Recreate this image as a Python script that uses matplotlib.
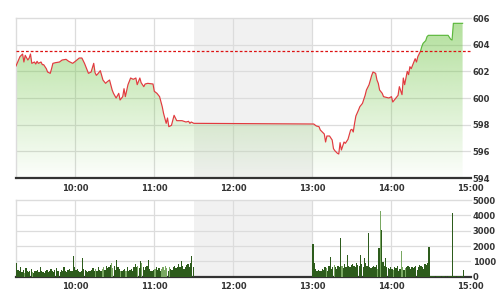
import numpy as np
import matplotlib
matplotlib.use("Agg")
import matplotlib.pyplot as plt
from matplotlib.patches import Rectangle
from matplotlib.colors import to_rgb

# ---------------- data ----------------
price_times = ["09:15","09:18","09:20","09:21","09:22","09:24","09:25","09:26","09:27","09:29",
               "09:30","09:31","09:32","09:34","09:35","09:36","09:38","09:39","09:41","09:42",
               "09:43","09:45","09:48","09:50","09:53","09:55","09:58","10:00","10:03","10:05",
               "10:07","10:09","10:10","10:12","10:14","10:15","10:16","10:17","10:19","10:21",
               "10:23","10:24","10:26","10:28","10:29","10:31","10:33","10:34","10:36","10:37",
               "10:38","10:40","10:42","10:44","10:46","10:47","10:49","10:50","10:52","10:53",
               "10:55","10:59","11:00","11:02","11:04","11:06","11:07","11:09","11:10","11:11",
               "11:13","11:15","11:17","11:21","11:24","11:26","11:27","11:28","11:30",
               "13:00","13:01","13:03","13:05","13:06","13:07","13:09","13:10","13:11","13:13",
               "13:15","13:16","13:17","13:19","13:20","13:21","13:22","13:24","13:25","13:26",
               "13:27","13:29","13:30","13:31","13:32","13:33","13:35","13:36","13:38","13:39",
               "13:40","13:41","13:43","13:44","13:45","13:46","13:48","13:49","13:50","13:51",
               "13:53","13:54","13:56","13:58","14:00","14:01","14:03","14:05","14:06","14:08",
               "14:09","14:10","14:12","14:13","14:14","14:15","14:17","14:18","14:19","14:20",
               "14:22","14:23","14:24","14:26","14:27","14:28","14:43","14:45","14:46","14:47",
               "14:54"]
price_vals = [602.4,603.1,603.3,602.7,603.2,602.85,603.0,603.3,602.6,602.7,
              602.55,602.75,602.6,602.7,602.5,602.5,602.2,601.95,601.85,602.2,
              602.6,602.65,602.7,602.85,602.9,602.75,602.6,602.75,603.0,603.0,
              602.6,602.1,601.85,601.95,602.6,601.9,601.7,601.8,602.05,601.35,
              601.1,601.2,601.35,600.6,600.35,600.0,600.35,599.85,600.1,600.7,
              600.1,601.0,601.5,601.4,601.5,601.0,601.5,601.15,600.85,601.05,
              601.1,601.05,600.5,600.35,600.1,599.35,598.85,598.1,598.5,597.85,
              597.95,598.7,598.3,598.3,598.2,598.25,598.1,598.2,598.1,
              598.05,598.05,597.9,597.85,597.6,597.5,597.3,596.7,597.15,597.15,
              596.85,596.2,596.05,595.85,595.8,596.65,596.1,596.7,596.6,596.75,
              596.9,597.6,597.65,597.45,598.1,598.65,599.1,599.35,599.6,599.9,
              600.2,600.6,601.0,601.35,601.7,601.95,601.85,601.35,601.1,600.6,
              600.35,600.1,600.05,600.0,600.1,599.7,599.95,600.2,600.85,600.25,
              601.5,601.0,602.0,601.75,602.35,602.2,602.7,602.95,602.7,603.1,
              603.5,603.85,604.1,604.3,604.6,604.7,604.7,604.4,604.35,605.6,
              605.6]
prev_close = 603.5

vol_am_start = "09:15"
vol_am = [900,450,350,600,300,450,250,550,400,300,
          350,500,300,250,400,350,450,300,600,350,
          300,250,400,450,300,350,500,400,300,450,
          550,350,400,300,450,350,600,400,300,450,
          500,400,350,1350,600,450,500,350,300,400,
          1250,500,450,350,300,400,350,450,550,400,
          500,350,600,450,400,500,650,450,700,550,
          600,750,900,550,700,450,1100,600,500,400,
          350,450,500,400,600,350,450,500,400,650,
          800,600,700,550,1000,900,650,450,600,700,
          1100,500,400,350,450,500,600,450,550,400,
          500,600,450,700,550,400,650,500,450,600,
          700,550,650,800,600,1050,700,500,600,750,
          800,650,900,1350,600]
vol_pm_start = "13:00"
vol_pm = [2150,900,500,400,450,350,400,500,450,600,
          550,400,700,1300,500,600,750,650,500,700,
          600,2500,700,550,800,650,1400,700,600,750,
          800,700,650,900,750,700,1400,800,600,1250,
          900,700,2850,600,550,650,700,600,750,500,
          1900,4300,3050,950,700,1200,600,550,500,650,
          500,450,600,550,700,400,500,1650,600,450,
          550,650,700,600,500,650,550,600,700,450,
          600,750,700,650,500,800,750,900,1950,50,
          30,20,40,10,30,20,50,30,20,40,
          30,20,10,40,30,50,4150,30,20,10,
          20,30,10,20,450,0,0,0,0,0]

x_tick_labels = ["10:00", "11:00", "12:00", "13:00", "14:00", "15:00"]
price_ticks = [594, 596, 598, 600, 602, 604, 606]
vol_ticks = [0, 1000, 2000, 3000, 4000, 5000]
lunch = ("11:30", "13:00")
session = ("09:15", "15:00")


def tmin(s):
    h, m = s.split(":")
    return int(h) * 60 + int(m)


pt = np.array([tmin(s) for s in price_times], float)
pv = np.array(price_vals, float)
xmin, xmax = tmin(session[0]), tmin(session[1])
ymin, ymax = price_ticks[0], price_ticks[-1]

# ---------------- figure ----------------
fig = plt.figure(figsize=(5, 3), dpi=100)
W, H = 500, 300
ax1 = fig.add_axes([16 / W, 1 - 178 / H, (470.5 - 16) / W, 160 / H])
ax2 = fig.add_axes([16 / W, 1 - 276.7 / H, (470.5 - 16) / W, 76.7 / H])

grid_c = "#dcdcdc"
text_c = "#333333"
font = dict(fontsize=6, fontweight="bold", color=text_c)

for ax in (ax1, ax2):
    ax.set_xlim(xmin, xmax)
    ax.axvspan(tmin(lunch[0]), tmin(lunch[1]), color="#f1f1f1", zorder=0, lw=0)
    for sp in ("left", "top"):
        ax.spines[sp].set_color(grid_c)
        ax.spines[sp].set_linewidth(1.0)
    ax.spines["right"].set_visible(False)
    ax.spines["bottom"].set_color("#333333")
    ax.spines["bottom"].set_linewidth(1.6)
    ticks = [tmin(s) for s in x_tick_labels]
    ax.set_xticks(ticks)
    ax.set_xticklabels(x_tick_labels, **font)
    ax.tick_params(axis="x", length=0, pad=4)
    ax.yaxis.tick_right()
    ax.tick_params(axis="y", length=0, pad=1.5)
    for t in ticks[:-1]:
        ax.axvline(t, color=grid_c, lw=0.9, zorder=1)

# ---- price panel ----
ax1.set_ylim(ymin, ymax)
ax1.set_yticks(price_ticks)
ax1.set_yticklabels([str(v) for v in price_ticks], **font)
for v in price_ticks[1:-1]:
    ax1.axhline(v, color=grid_c, lw=0.9, zorder=1)

# gradient fill under the curve
poly = ax1.fill_between(pt, pv, ymin, facecolor="none", edgecolor="none")
g = np.array(to_rgb("#78c850"))
ny = 256
alpha = np.linspace(0.58, 0.02, ny)[:, None]
img = np.zeros((ny, 2, 4))
img[..., :3] = g
img[..., 3] = alpha
im = ax1.imshow(img, extent=[xmin, xmax, ymin, ymax], origin="upper",
                aspect="auto", zorder=2, interpolation="bilinear")
im.set_clip_path(poly.get_paths()[0], transform=ax1.transData)
ax1.set_xlim(xmin, xmax)
ax1.set_ylim(ymin, ymax)

# line: red below previous close, green above
red_line, = ax1.plot(pt, pv, color="#e23a3f", lw=0.85, zorder=4)
grn_line, = ax1.plot(pt, pv, color="#5cb83c", lw=0.85, zorder=4)
r_clip = Rectangle((xmin, ymin - 5), xmax - xmin, prev_close - ymin + 5, transform=ax1.transData)
g_clip = Rectangle((xmin, prev_close), xmax - xmin, ymax - prev_close + 5, transform=ax1.transData)
red_line.set_clip_path(r_clip)
grn_line.set_clip_path(g_clip)
ax1.axhline(prev_close, color="#dd1111", lw=0.9, ls=(0, (2.2, 1.6)), zorder=5)

# ---- volume panel ----
ax2.set_ylim(vol_ticks[0], vol_ticks[-1])
ax2.set_yticks(vol_ticks)
ax2.set_yticklabels([str(v) for v in vol_ticks], **font)
for v in vol_ticks[1:-1]:
    ax2.axhline(v, color=grid_c, lw=0.9, zorder=1)

va_t = tmin(vol_am_start) + np.arange(len(vol_am))
vp_t = tmin(vol_pm_start) + np.arange(len(vol_pm))
vt = np.concatenate([va_t, vp_t]).astype(float)
vv = np.concatenate([vol_am, vol_pm]).astype(float)
# colour by minute direction of price
pi = np.interp(vt, pt, pv)
prev = np.interp(vt - 1, pt, pv)
cols = ["#79a862" if a < b - 0.25 else "#2d5c1c" for a, b in zip(pi, prev)]
ax2.bar(vt + 0.5, vv, width=0.95, color=cols, lw=0, zorder=3)

fig.savefig("out.png", dpi=100)
